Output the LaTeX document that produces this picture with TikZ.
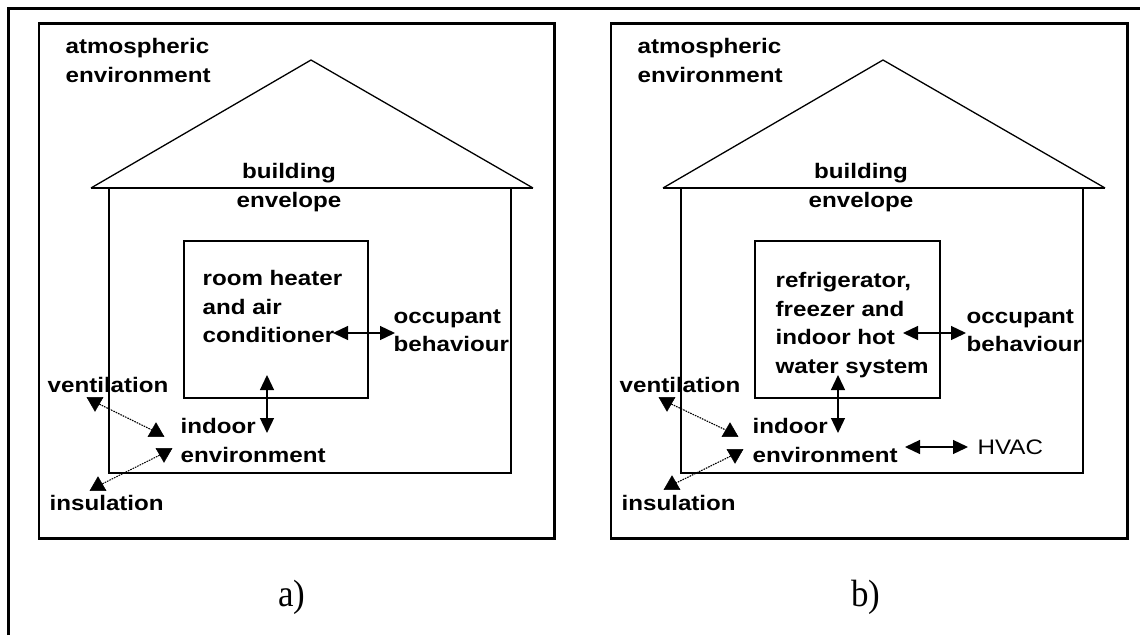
\documentclass[tikz,border=0pt]{standalone}
\usepackage{fontspec}
\usetikzlibrary{shapes.geometric,arrows.meta}
\newfontfamily\labfont[FakeStretch=1.15]{Liberation Sans}
\newfontfamily\capfont[FakeStretch=0.92]{Liberation Serif}
\tikzstyle{every path}=[line width=1.3pt, line join=miter]
\tikzstyle{lab}=[font=\labfont\bfseries\fontsize{21}{28.5}\selectfont, inner sep=0pt, align=left]
\tikzstyle{plainlab}=[font=\labfont\fontsize{21}{28.5}\selectfont, inner sep=0pt]
\tikzstyle{caplab}=[font=\capfont\fontsize{38}{40}\selectfont, inner sep=0pt]
\tikzstyle{frame}=[line width=3.5pt]
\tikzstyle{panelbox}=[line width=2.5pt]
\tikzstyle{eaves}=[line width=2.5pt]
\tikzstyle{twoway}=[{Triangle[length=15pt,width=14pt]}-{Triangle[length=15pt,width=14pt]}]
\tikzstyle{triup}=[regular polygon, regular polygon sides=3, fill, draw, line width=0.5pt, minimum size=18.5pt, inner sep=0pt]
\tikzstyle{tridown}=[triup, shape border rotate=180]
\tikzstyle{link}=[line width=1.1pt, dash pattern=on 1.6pt off 1pt]

\begin{document}
\begin{tikzpicture}[x=1pt, y=-1pt]
  \useasboundingbox (0,0) rectangle (1140,635);
  % Outer frame (top and left only)
  \draw[frame] (8.5,635) -- (8.5,8.5) -- (1140,8.5);

  % ---------- panel a ----------
  \draw[panelbox] (39,23.5) rectangle (554.5,538.5);
  % Roof and walls
  \draw (91,188) -- (311,60) -- (533,188);
  \draw[eaves] (91,188) -- (533,188);
  \draw (109,188) -- (109,473) -- (511,473) -- (511,188);
  \draw (184,241) rectangle (368,398);

  \node[lab, anchor=north west] (atmoA) at (65,38) {atmospheric\\environment};
  \node[lab, align=center, anchor=north] (envlA) at (289,163) {building\\envelope};
  \node[lab, anchor=north west] (devA) at (202,270) {room heater\\and air\\conditioner};
  \node[lab, anchor=north west] (occA) at (393,309) {occupant\\behaviour};
  \node[lab, anchor=north west] (ventA) at (47,377) {ventilation};
  \node[lab, anchor=north west] (indoorA) at (180,418) {indoor\\environment};
  \node[lab, anchor=north west] (insulA) at (49,495) {insulation};
  \node[caplab] (capA) at (292,597) {a)};

  % Exchanges
  \coordinate (devA1) at (267,375);
  \coordinate (devA2) at (267,433);
  \coordinate (occA1) at (333,333);
  \coordinate (occA2) at (395,333);
  \draw[twoway] (devA1) -- (devA2);
  \draw[twoway] (occA1) -- (occA2);

  \node[tridown] (vdownA) at (95,402) {};
  \node[triup] (vupA) at (156,432) {};
  \node[tridown] (idownA) at (164,453) {};
  \node[triup] (iupA) at (98,486) {};
  \draw[link] (vdownA) -- (vupA);
  \draw[link] (idownA) -- (iupA);

  % ---------- panel b ----------
  \begin{scope}[xshift=572pt]
  \draw[panelbox] (39,23.5) rectangle (555.5,538.5);
  % Roof and walls
  \draw (91,188) -- (311,60) -- (533,188);
  \draw[eaves] (91,188) -- (533,188);
  \draw (109,188) -- (109,473) -- (511,473) -- (511,188);
  \draw (183,241) rectangle (368,398);

  \node[lab, anchor=north west] (atmoB) at (65,38) {atmospheric\\environment};
  \node[lab, align=center, anchor=north] (envlB) at (289,163) {building\\envelope};
  \node[lab, anchor=north west] (devB) at (203,272) {refrigerator,\\freezer and\\indoor hot\\water system};
  \node[lab, anchor=north west] (occB) at (394,309) {occupant\\behaviour};
  \node[lab, anchor=north west] (ventB) at (47,377) {ventilation};
  \node[lab, anchor=north west] (indoorB) at (180,418) {indoor\\environment};
  \node[lab, anchor=north west] (insulB) at (49,495) {insulation};
  \node[plainlab, anchor=north west] (hvacB) at (405,439) {HVAC};
  \node[caplab] (capB) at (294,597) {b)};

  % Exchanges
  \coordinate (devB1) at (266,375);
  \coordinate (devB2) at (266,433);
  \coordinate (occB1) at (331,333);
  \coordinate (occB2) at (394,333);
  \coordinate (hvacB1) at (333,447);
  \coordinate (hvacB2) at (396,447);
  \draw[twoway] (devB1) -- (devB2);
  \draw[twoway] (occB1) -- (occB2);
  \draw[twoway] (hvacB1) -- (hvacB2);

  \node[tridown] (vdownB) at (95,402) {};
  \node[triup] (vupB) at (158,432) {};
  \node[tridown] (idownB) at (163,454) {};
  \node[triup] (iupB) at (100,485) {};
  \draw[link] (vdownB) -- (vupB);
  \draw[link] (idownB) -- (iupB);
  \end{scope}
\end{tikzpicture}
\end{document}
